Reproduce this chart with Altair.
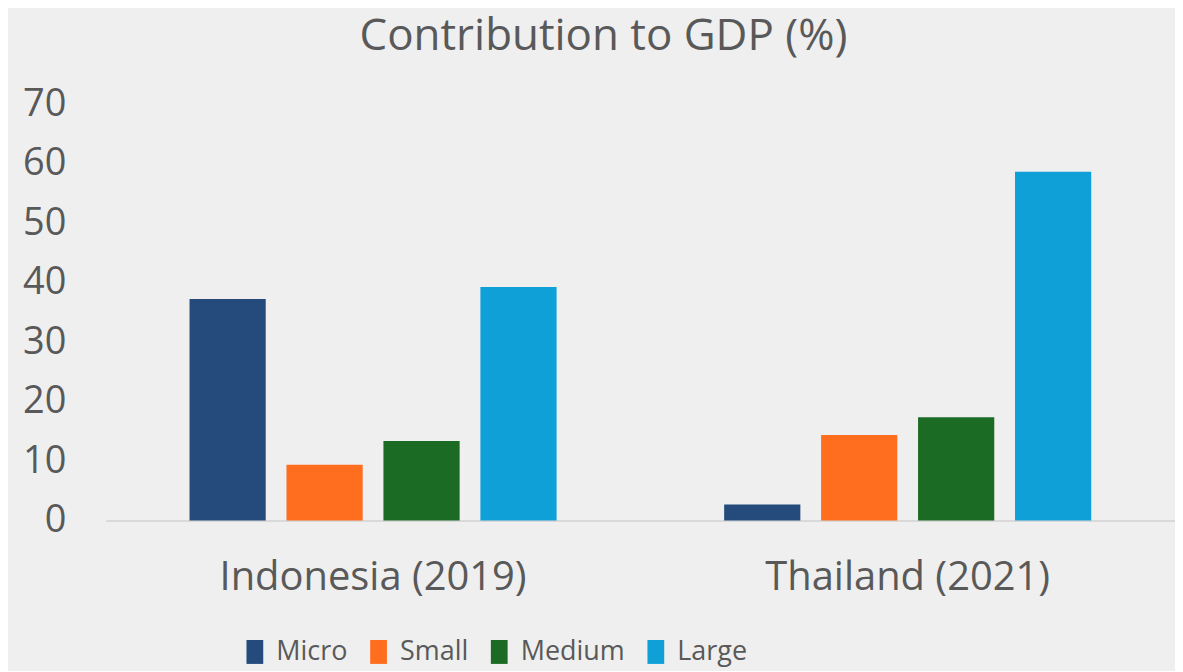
import altair as alt
import pandas as pd

countries = ["Indonesia (2019)", "Thailand (2021)"]
sizes = ["Micro", "Small", "Medium", "Large"]
indonesia = [37.3, 9.4, 13.4, 39.3]
thailand = [2.7, 14.4, 17.4, 58.7]
colors = ["#254A7C", "#FF6D1F", "#1B6B24", "#10A0D8"]
y_ticks = [0, 10, 20, 30, 40, 50, 60, 70]

rows = []
for c, vals in zip(countries, [indonesia, thailand]):
    for s, v in zip(sizes, vals):
        rows.append({"Country": c, "Size": s, "Value": v})
df = pd.DataFrame(rows)

text_color = "#595959"
font = "Open Sans"

chart = alt.Chart(df).mark_bar().encode(
    x=alt.X("Country:N", sort=countries,
            scale=alt.Scale(paddingInner=0.3134, paddingOuter=0.1567),
            axis=alt.Axis(title=None, labelAngle=0, ticks=False, domain=True,
                          domainColor="#d9d9d9", domainWidth=2,
                          labelFontSize=40, labelColor=text_color, labelFont=font,
                          labelPadding=37, labelBaseline="top", labelLimit=600)),
    xOffset=alt.XOffset("Size:N", sort=sizes,
                        scale=alt.Scale(paddingInner=0.214, paddingOuter=0)),
    y=alt.Y("Value:Q", scale=alt.Scale(domain=[0, 70], nice=False),
            axis=alt.Axis(title=None, values=y_ticks, grid=False, ticks=False,
                          domain=False, labelFontSize=38, labelColor=text_color,
                          labelFont=font, labelPadding=40)),
    color=alt.Color("Size:N", sort=sizes,
                    scale=alt.Scale(domain=sizes, range=colors),
                    legend=alt.Legend(title=None, orient="none", direction="horizontal",
                                      legendX=136, legendY=535,
                                      symbolType="M-0.7,-1H0.7V1H-0.7Z",
                                      symbolSize=576, symbolStrokeWidth=0,
                                      labelFontSize=27, labelColor=text_color,
                                      labelFont=font,
                                      labelOffset=8, columnPadding=17,
                                      symbolOpacity=1)),
).properties(
    width=1072,
    height=417,
    title=alt.TitleParams("Contribution to GDP (%)", fontSize=44, font=font,
                          fontWeight="normal", color=text_color,
                          anchor="middle", dx=-37, offset=27),
    autosize=alt.AutoSizeParams(type="none"),
    padding={"left": 98, "top": 96, "right": 0, "bottom": 150},
    background="#efefef",
).configure_view(stroke=None)

chart.save("out.html", embed_options={"renderer": "svg", "actions": False})
